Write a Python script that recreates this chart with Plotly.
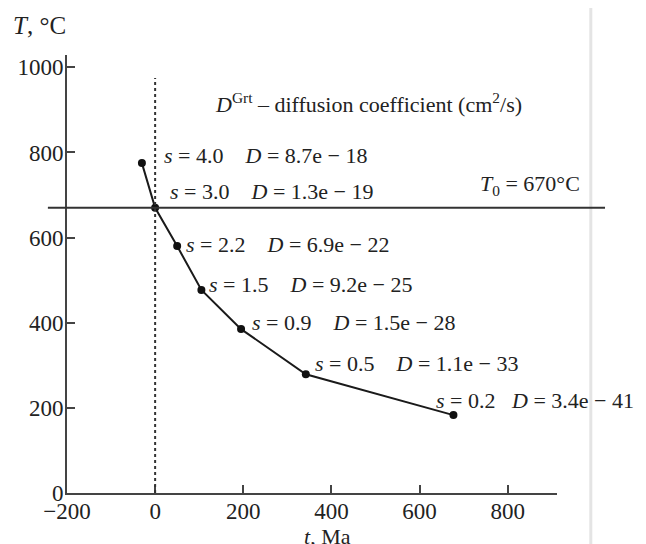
import plotly.graph_objects as go

# ---- data ----
t_ma = [-30, 0, 50, 105, 195, 342, 677]          # time, Ma
temp_c = [775, 670, 580, 477, 385, 279, 183]     # temperature, °C
s_values = ["4.0", "3.0", "2.2", "1.5", "0.9", "0.5", "0.2"]
d_mantissa = ["8.7", "1.3", "6.9", "9.2", "1.5", "1.1", "3.4"]
d_exponent = ["18", "19", "22", "25", "28", "33", "41"]
t0_value = 670
x_ticks = [-200, 0, 200, 400, 600, 800]
y_ticks = [0, 200, 400, 600, 800, 1000]

# label offsets (pixels) relative to each point
label_dx = [20, 13, 7, 6, 9, 7, -19]
label_dy = [8, 16, 2, 5, 7, 11, 15]

FONT = "Liberation Serif, Times New Roman, serif"
INK = "#222222"
NB = "\u00a0"

fig = go.Figure()

fig.add_trace(go.Scatter(
    x=t_ma, y=temp_c, mode="lines+markers",
    line=dict(color="#1a1a1a", width=2),
    marker=dict(color="#111111", size=8),
    showlegend=False, hoverinfo="skip", cliponaxis=False,
))

# horizontal T0 line (extends past the axes like in the original)
fig.add_shape(type="line", xref="paper", yref="y",
              x0=-0.039, x1=1.098, y0=t0_value, y1=t0_value,
              line=dict(color="#333333", width=2))
# dotted line at t = 0
fig.add_shape(type="line", xref="x", yref="y",
              x0=0, x1=0, y0=0, y1=975,
              line=dict(color="#333333", width=2, dash="dot"))
# faint scan fold line
fig.add_shape(type="line", xref="paper", yref="paper",
              x0=1.069, x1=1.069, y0=-0.14, y1=1.14, layer="below",
              line=dict(color="#e4e4e4", width=3))

annotations = []
for i in range(len(t_ma)):
    gap = NB * (4 if i < len(t_ma) - 1 else 3)
    txt = (f"<i>s</i> = {s_values[i]}{gap}<i>D</i> = "
           f"{d_mantissa[i]}e \u2212 {d_exponent[i]}")
    annotations.append(dict(
        x=t_ma[i], y=temp_c[i], xref="x", yref="y", text=txt,
        showarrow=False, xanchor="left", yanchor="middle",
        xshift=label_dx[i], yshift=label_dy[i],
        font=dict(family=FONT, size=22, color=INK),
    ))

annotations += [
    dict(x=0.298, y=0.890, xref="paper", yref="paper", xanchor="left", yanchor="middle",
         text="<i>D</i><sup>Grt</sup> \u2013 diffusion coefficient (cm<sup>2</sup>/s)",
         showarrow=False, font=dict(family=FONT, size=22, color=INK)),
    dict(x=0.839, y=0.703, xref="paper", yref="paper", xanchor="left", yanchor="middle",
         text=f"<i>T</i><sub>0</sub> = {t0_value}°C",
         showarrow=False, font=dict(family=FONT, size=22, color=INK)),
    dict(x=-0.114, y=1.068, xref="paper", yref="paper", xanchor="left", yanchor="middle",
         text="<i>T</i>, °C", showarrow=False,
         font=dict(family=FONT, size=25, color=INK)),
    dict(x=0.531, y=-0.099, xref="paper", yref="paper", xanchor="center", yanchor="middle",
         text="<i>t</i>, Ma", showarrow=False,
         font=dict(family=FONT, size=22, color=INK)),
]

axis_common = dict(
    showgrid=False, zeroline=False, automargin=False,
    showline=True, linecolor="#444444", linewidth=2,
    ticks="inside", ticklen=8, tickwidth=1.5, tickcolor="#444444",
    tickfont=dict(family=FONT, size=23, color=INK),
)

fig.update_layout(
    width=638, height=536,
    margin=dict(l=59, r=89, t=47, b=51),
    paper_bgcolor="white", plot_bgcolor="white",
    annotations=annotations,
    xaxis=dict(range=[-200, 912], tickvals=x_ticks, ticklabelstandoff=-4, **axis_common),
    yaxis=dict(range=[0, 1029], tickvals=y_ticks, ticklabelstandoff=-3, **axis_common),
)

fig.write_html("out.html")
